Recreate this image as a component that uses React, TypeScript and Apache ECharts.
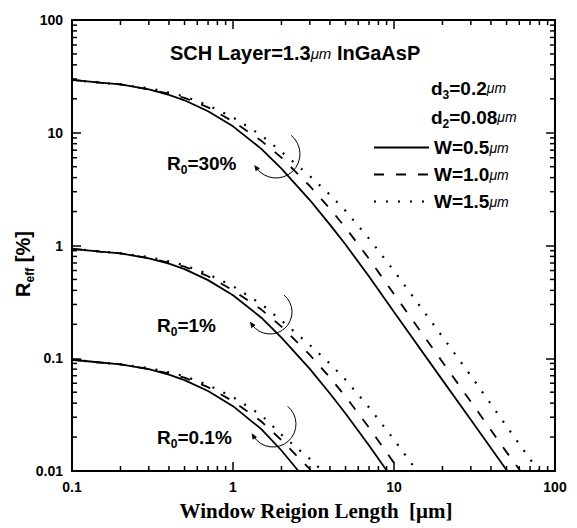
import React, { useEffect, useRef } from 'react';
import * as echarts from 'echarts';

// ---------- data ----------
// Window region length [µm] vs effective reflectivity [%]
const r30W05: [number, number][] = [[0.1,29.4],[0.15,27.8],[0.2,26.8],[0.3,24.2],[0.4,21.7],[0.5,19.4],[0.7,15.5],[1,11.4],[1.5,7.2],[2,4.8],[3,2.53],[4,1.53],[5,1.02],[7,0.53],[10,0.257],[20,0.064],[30,0.0285],[50.5,0.01]];
const r30W10: [number, number][] = [[0.1,29.4],[0.15,27.8],[0.2,26.8],[0.3,24.3],[0.4,22.2],[0.5,20.4],[0.7,16.8],[1,12.6],[1.5,8.48],[2,6.02],[3,3.37],[4,2.12],[5,1.44],[7,0.762],[10,0.371],[20,0.0925],[30,0.0412],[50,0.0147],[61,0.01]];
const r30W15: [number, number][] = [[0.1,29.4],[0.15,27.8],[0.2,26.8],[0.3,24.8],[0.4,22.7],[0.5,21.0],[0.7,17.5],[1,13.7],[1.5,9.49],[2,6.78],[3,4.13],[4,2.82],[5,2.03],[7,1.15],[10,0.596],[20,0.155],[30,0.07],[50,0.025],[79,0.01]];

const r1W05: [number, number][] = [[0.1,0.935],[0.15,0.884],[0.2,0.852],[0.3,0.77],[0.4,0.69],[0.5,0.617],[0.7,0.493],[1,0.3625],[1.5,0.229],[2,0.1526],[3,0.0805],[4,0.0487],[5,0.0324],[7,0.01685],[9.05,0.01]];
const r1W10: [number, number][] = [[0.1,0.935],[0.15,0.884],[0.2,0.852],[0.3,0.773],[0.4,0.706],[0.5,0.649],[0.7,0.534],[1,0.401],[1.5,0.27],[2,0.191],[3,0.107],[4,0.0674],[5,0.0458],[7,0.0242],[10,0.0118],[10.9,0.01]];
const r1W15: [number, number][] = [[0.1,0.935],[0.15,0.884],[0.2,0.852],[0.3,0.789],[0.4,0.722],[0.5,0.668],[0.7,0.557],[1,0.436],[1.5,0.302],[2,0.216],[3,0.131],[4,0.0897],[5,0.0646],[7,0.0366],[10,0.019],[13.9,0.01]];

const r01W05: [number, number][] = [[0.1,0.097],[0.15,0.0917],[0.2,0.0884],[0.3,0.0799],[0.4,0.0716],[0.5,0.064],[0.7,0.0512],[1,0.0376],[1.5,0.0235],[2,0.0152],[2.55,0.01]];
const r01W10: [number, number][] = [[0.1,0.097],[0.15,0.0917],[0.2,0.0884],[0.3,0.0802],[0.4,0.0733],[0.5,0.0673],[0.7,0.0554],[1,0.0416],[1.5,0.0275],[2,0.0188],[3,0.0104],[3.06,0.01]];
const r01W15: [number, number][] = [[0.1,0.097],[0.15,0.0917],[0.2,0.0884],[0.3,0.0818],[0.4,0.0749],[0.5,0.0693],[0.7,0.0578],[1,0.0452],[1.5,0.0313],[2,0.021],[3,0.0128],[3.6,0.01]];

const seriesNames = ['W=0.5μm', 'W=1.0μm', 'W=1.5μm'];
const xMinorTicks = [0.2,0.3,0.4,0.5,0.6,0.7,0.8,0.9,2,3,4,5,6,7,8,9,20,30,40,50,60,70,80,90];
const yMinorTicks = [0.02,0.03,0.04,0.05,0.06,0.07,0.08,0.09,0.2,0.3,0.4,0.5,0.6,0.7,0.8,0.9,2,3,4,5,6,7,8,9,20,30,40,50,60,70,80,90];

// ---------- styling ----------
const SANS = "'Liberation Sans', Arial, Helvetica, sans-serif";
const SERIF = "'Liberation Serif', 'Times New Roman', serif";

function rich(size: number) {
  const L = size + 6;
  const su = Math.round(size * 0.74);
  return {
    m: { fontSize: size, fontWeight: 'bold', fontFamily: SANS, lineHeight: L, verticalAlign: 'middle', fill: '#000', color: '#000' },
    s: { fontSize: Math.round(size * 0.62), fontWeight: 'bold', fontFamily: SANS, lineHeight: 12, verticalAlign: 'bottom', fill: '#000', color: '#000' },
    u: { fontSize: su, fontWeight: 'normal', fontStyle: 'italic', fontFamily: SANS, lineHeight: L, verticalAlign: 'middle', fill: '#000', color: '#000' },
  };
}

function textEl(x: number, y: number, text: string, size: number, extra: any = {}) {
  return {
    type: 'text', x, y, silent: true, z: 50, ...extra,
    style: { text, rich: rich(size), align: 'left', verticalAlign: 'middle', fill: '#000', fontSize: size, fontFamily: SANS, fontWeight: 'bold' },
  };
}

function arrowArc(cx: number, cy: number, r: number, a0: number, a1: number) {
  const ex = cx + r * Math.cos(a1), ey = cy + r * Math.sin(a1);
  const dx = -Math.sin(a1), dy = Math.cos(a1);
  const nx = -dy, ny = dx;
  const tip = [ex + dx * 4, ey + dy * 4];
  const b1 = [ex - dx * 2 + nx * 2.6, ey - dy * 2 + ny * 2.6];
  const b2 = [ex - dx * 2 - nx * 2.6, ey - dy * 2 - ny * 2.6];
  return [
    { type: 'arc', silent: true, z: 50, shape: { cx, cy, r, startAngle: a0, endAngle: a1, clockwise: true }, style: { stroke: '#000', lineWidth: 1, fill: 'none' } },
    { type: 'polygon', silent: true, z: 50, shape: { points: [tip, b1, b2] }, style: { fill: '#000' } },
  ];
}

const lineKinds: any[] = [
  { width: 1.8, type: 'solid' },
  { width: 1.8, type: [10, 12] },
  { width: 2.2, type: [2, 10] },
];

function lineSeries(kind: number, data: [number, number][]) {
  return {
    type: 'line', name: seriesNames[kind], data, symbol: 'none', showSymbol: false,
    smooth: false, silent: true, color: '#000',
    lineStyle: { color: '#000', width: lineKinds[kind].width, type: lineKinds[kind].type },
    xAxisIndex: 0, yAxisIndex: 0, z: 5,
  };
}

function minorTickSeries(dir: 'x' | 'y') {
  const vals = dir === 'x' ? xMinorTicks : yMinorTicks;
  return {
    type: 'custom', silent: true, z: 10, clip: false,
    xAxisIndex: 0, yAxisIndex: 0,
    data: vals.map((v) => (dir === 'x' ? [v, 1] : [1, v])),
    renderItem: (params: any, api: any) => {
      const cs = params.coordSys;
      const p = api.coord([api.value(0), api.value(1)]);
      const len = 5;
      const st = { stroke: '#000', lineWidth: 1.5 };
      if (dir === 'x') {
        return { type: 'group', children: [
          { type: 'line', shape: { x1: p[0], y1: cs.y + cs.height, x2: p[0], y2: cs.y + cs.height - len }, style: st },
          { type: 'line', shape: { x1: p[0], y1: cs.y, x2: p[0], y2: cs.y + len }, style: st },
        ] };
      }
      return { type: 'group', children: [
        { type: 'line', shape: { x1: cs.x, y1: p[1], x2: cs.x + len, y2: p[1] }, style: st },
        { type: 'line', shape: { x1: cs.x + cs.width, y1: p[1], x2: cs.x + cs.width - len, y2: p[1] }, style: st },
      ] };
    },
  };
}

const axisCommon = {
  axisLine: { show: true, lineStyle: { color: '#000', width: 2 } },
  axisTick: { show: true, inside: true, length: 9, lineStyle: { color: '#000', width: 1.5 } },
  splitLine: { show: false },
  minorTick: { show: false },
};

export default function App() {
  const ref = useRef<HTMLDivElement>(null);
  useEffect(() => {
    if (!ref.current) return;
    const chart = echarts.init(ref.current, null, { renderer: 'svg' });
    const labelStyle = { color: '#000', fontSize: 14, fontWeight: 'bold', fontFamily: SANS };
    const option: any = {
      animation: false,
      backgroundColor: '#fff',
      grid: { left: 72, right: 22, top: 20, bottom: 57, containLabel: false },
      xAxis: [
        { type: 'log', logBase: 10, min: 0.1, max: 100, position: 'bottom', ...axisCommon,
          axisLabel: { ...labelStyle, margin: 9, showMinLabel: true, showMaxLabel: true } },
        { type: 'log', logBase: 10, min: 0.1, max: 100, position: 'top', ...axisCommon, axisLabel: { show: false } },
      ],
      yAxis: [
        { type: 'log', logBase: 10, min: 0.01, max: 100, position: 'left', ...axisCommon,
          axisLabel: { ...labelStyle, margin: 9, showMinLabel: true, showMaxLabel: true } },
        { type: 'log', logBase: 10, min: 0.01, max: 100, position: 'right', ...axisCommon, axisLabel: { show: false } },
      ],
      legend: {
        show: true, orient: 'vertical', left: 368, top: 133, itemWidth: 55, itemHeight: 14, itemGap: 8,
        selectedMode: false, data: seriesNames,
        itemStyle: { opacity: 0, borderWidth: 0 },
        formatter: (name: string) => '{m|' + name.replace('μm', '}{u|μm}'),
        textStyle: { color: '#000', fontSize: 19, fontWeight: 'bold', fontFamily: SANS, rich: rich(19) },
      },
      series: [
        lineSeries(0, r30W05), lineSeries(1, r30W10), lineSeries(2, r30W15),
        lineSeries(0, r1W05), lineSeries(1, r1W10), lineSeries(2, r1W15),
        lineSeries(0, r01W05), lineSeries(1, r01W10), lineSeries(2, r01W15),
        minorTickSeries('x'), minorTickSeries('y'),
      ],
      graphic: [
        textEl(170, 53, '{m|SCH Layer=1.3}{u|μm}{m| InGaAsP}', 20),
        textEl(431, 88, '{m|d}{s|3}{m|=0.2}{u|μm}', 19),
        textEl(431, 117, '{m|d}{s|2}{m|=0.08}{u|μm}', 19),
        textEl(167, 163, '{m|R}{s|0}{m|=30%}', 19),
        textEl(157, 325, '{m|R}{s|0}{m|=1%}', 19),
        textEl(157, 437, '{m|R}{s|0}{m|=0.1%}', 19),
        {
          type: 'text', x: 23, y: 264, rotation: Math.PI / 2, silent: true, z: 50,
          style: { text: '{m|R}{s|eff}{m| [%]}', rich: rich(20), align: 'center', verticalAlign: 'middle', fill: '#000' },
        },
        {
          type: 'text', x: 316, y: 511, silent: true, z: 50,
          style: { text: 'Window Reigion Length  [μm]', align: 'center', verticalAlign: 'middle', fill: '#000', fontSize: 21, fontWeight: 'bold', fontFamily: SERIF },
        },
        ...arrowArc(276, 154, 24, -0.89, 2.51),
        ...arrowArc(270, 312, 22, -0.88, 2.51),
        ...arrowArc(273, 424, 23, -0.88, 2.56),
      ],
    };
    chart.setOption(option);
    return () => chart.dispose();
  }, []);
  return <div ref={ref} style={{ position: 'fixed', left: 0, top: 0, width: 577, height: 528, background: '#fff' }} />;
}
